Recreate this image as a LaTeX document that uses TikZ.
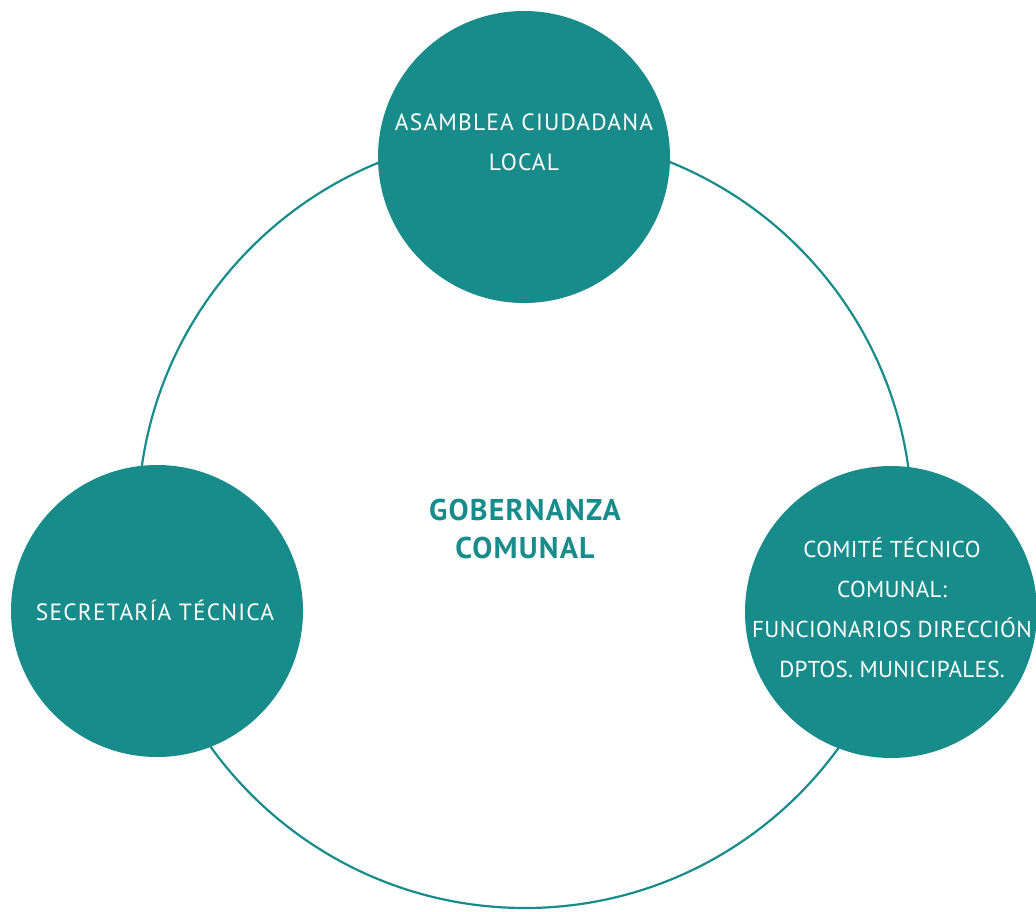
\documentclass[tikz,border=0pt]{standalone}
\usepackage{fontspec}
\setmainfont{PT Sans}
\newfontfamily\circfont[LetterSpace=5]{PT Sans}
\newfontfamily\circfontb[LetterSpace=1.5]{PT Sans}
\newfontfamily\titfont[LetterSpace=4]{PT Sans}
\definecolor{teal1}{HTML}{178C8A}
\begin{document}
\begin{tikzpicture}[x=1pt,y=-1pt,
  ring/.style={draw=teal1,line width=2.2pt},
  bubble/.style={circle,fill=teal1,minimum size=292pt,inner sep=0pt},
  btext/.style={text=white,font=\circfont\fontsize{23.5}{40}\selectfont,align=center},
  btextb/.style={text=white,font=\circfontb\fontsize{23}{40}\selectfont,align=center},
  ttext/.style={text=teal1,font=\titfont\bfseries\fontsize{30}{38}\selectfont,align=center}]
\useasboundingbox (0,0) rectangle (1036,911);
\node[circle,minimum size=774pt,inner sep=0pt,ring] (ring) at (525,521) {};
\node[bubble] (top) at (524,157) {};
\node[bubble] (left) at (157,611) {};
\node[bubble] (right) at (891,612) {};
\node[btext] (toptext) at (524,142) {ASAMBLEA CIUDADANA\\LOCAL};
\node[btext] (lefttext) at (155,610) {SECRETARÍA TÉCNICA};
\node[btextb] (righttext) at (892,608) {COMITÉ TÉCNICO\\COMUNAL:\\FUNCIONARIOS DIRECCIÓN\\DPTOS. MUNICIPALES.};
\node[ttext] (title) at (525,529) {GOBERNANZA\\COMUNAL};
\end{tikzpicture}
\end{document}
